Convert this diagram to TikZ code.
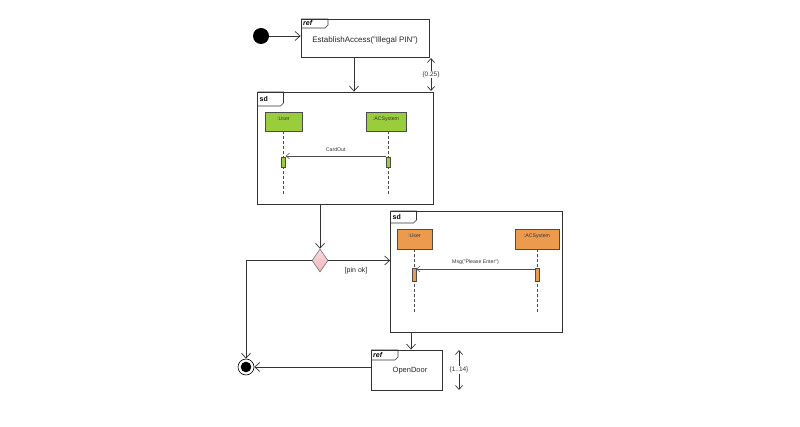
\documentclass[tikz,border=0pt]{standalone}
\usepackage{fontspec}
\setmainfont{Liberation Sans}
\usetikzlibrary{arrows.meta,shapes.geometric,calc}
\definecolor{lgreen}{HTML}{9ACD3C}
\definecolor{lorange}{HTML}{EC9A4E}
\definecolor{dpink}{HTML}{F2BFC6}
\tikzset{
  frame/.style={draw=black!80, line width=0.8pt, rectangle, inner sep=0pt},
  arr/.style={draw=black!80, line width=0.7pt, -{Straight Barb[length=5pt,width=9pt]}},
  dur/.style={draw=black!80, line width=0.7pt, {Straight Barb[length=4pt,width=7pt]}-{Straight Barb[length=4pt,width=7pt]}},
  msg/.style={draw=black!70, line width=0.5pt, -{Straight Barb[length=3.5pt,width=6pt]}},
  life/.style={draw=black!70, line width=0.5pt, dash pattern=on 3pt off 2pt},
  headg/.style={draw=black!70, fill=lgreen, line width=0.5pt, minimum width=37pt, minimum height=19pt, inner sep=0pt},
  heado/.style={draw=black!70, fill=lorange, line width=0.5pt, minimum width=37pt, minimum height=20pt, inner sep=0pt},
  actg/.style={draw=black!70, fill=lgreen, line width=0.5pt, minimum width=4pt, minimum height=10pt, inner sep=0pt},
  acto/.style={draw=black!70, fill=lorange, line width=0.5pt, minimum width=4pt, minimum height=13pt, inner sep=0pt},
  tiny/.style={font=\fontsize{5.2}{6}\selectfont, text=black!80},
}
\newcommand{\tabframe}[5]{% x y w h label
  \draw[draw=black!80, line width=0.6pt] (#1,#2) -- (#1+#3,#2) -- (#1+#3,#2+#4-3) -- (#1+#3-3,#2+#4) -- (#1,#2+#4);
  \node[anchor=west, inner sep=1pt, font=\fontsize{7}{8}\selectfont\bfseries] at (#1+1,#2+#4/2) {#5};
}
\begin{document}
\begin{tikzpicture}[x=1pt,y=-1pt]
\useasboundingbox[fill=white] (0,0) rectangle (800,427);
% initial
\node[circle, fill=black, minimum size=16pt, inner sep=0pt] (init) at (261,36) {};
% ref 1
\node[frame, minimum width=128pt, minimum height=38pt] (ref1) at (365,38) {};
\tabframe{301}{19}{27}{9}{\itshape ref}
\node[font=\fontsize{8}{9}\selectfont, text=black!85] (ref1t) at (365,40) {EstablishAccess("Illegal PIN")};
% sd 1
\node[frame, minimum width=176pt, minimum height=112pt] (sd1) at (345.5,148) {};
\tabframe{257.5}{92}{26}{14}{sd}
\node[headg] (u1) at (283.5,121.5) {};
\node[tiny, anchor=north] (u1t) at (283.5,113) {:User};
\node[headg, minimum width=40pt] (a1) at (386,121.5) {};
\node[tiny, anchor=north] (a1t) at (386,113) {:ACSystem};
\coordinate (u1e) at (283.5,195);
\coordinate (a1e) at (388,195);
\draw[life] (u1.south) -- (u1e);
\draw[life] (a1.south -| a1e) -- (a1e);
\node[actg] (u1act) at (283.5,162) {};
\node[actg] (a1act) at (388,162) {};
\draw[msg] (a1act.west |- 0,156) -- (u1act.east |- 0,156) node[midway, above=1pt, tiny] {CardOut};
% duration 0.25
\coordinate (d1a) at (431,58);
\coordinate (d1b) at (431,91);
\draw[dur] (d1a) -- (d1b) node[midway, fill=white, inner sep=0.5pt, font=\fontsize{6.5}{7}\selectfont, text=black!80] {\{0.25\}};
% decision
\node[diamond, draw=black!60, line width=0.5pt, top color=dpink!60, bottom color=dpink!95!red, minimum width=16pt, minimum height=23pt, inner sep=0pt, aspect=0.7] (dia) at (320,260.5) {};
% sd 2
\node[frame, minimum width=172pt, minimum height=121pt] (sd2) at (476.5,271.5) {};
\tabframe{390.5}{211}{26}{12}{sd}
\node[heado, minimum width=35pt] (u2) at (414.5,239) {};
\node[tiny, anchor=north] (u2t) at (414.5,230.5) {:User};
\node[heado, minimum width=44pt] (a2) at (537,239) {};
\node[tiny, anchor=north] (a2t) at (537,230.5) {:ACSystem};
\coordinate (u2e) at (414,314);
\coordinate (a2e) at (537,314);
\draw[life] (u2.south -| u2e) -- (u2e);
\draw[life] (a2.south) -- (a2e);
\node[acto] (u2act) at (414,274.5) {};
\node[acto] (a2act) at (537,274.5) {};
\draw[msg] (a2act.west |- 0,269) -- (u2act.east |- 0,269) node[midway, above=1pt, tiny] {Msg("Please Enter")};
% ref 2
\node[frame, minimum width=71pt, minimum height=40pt] (ref2) at (406.5,370) {};
\tabframe{371}{350}{27}{10}{\itshape ref}
\node[font=\fontsize{7.5}{8}\selectfont, text=black!85] (ref2t) at (410,371) {OpenDoor};
% duration 1..14
\coordinate (d2a) at (459,350);
\coordinate (d2b) at (459,390);
\draw[dur] (d2a) -- (d2b) node[midway, fill=white, inner sep=0.5pt, font=\fontsize{6.5}{7}\selectfont, text=black!80] {\{1..14\}};
% final
\node[circle, draw=black, line width=0.6pt, minimum size=16pt, inner sep=0pt] (final) at (246,367) {};
\fill[black] (final.center) circle (5.3pt);
% connectors
\draw[arr] (init) -- (ref1.west |- init);
\draw[arr] (ref1.south -| 354,0) -- (sd1.north -| 354,0);
\draw[arr] (sd1.south -| dia.north) -- (dia.north);
\draw[arr] (dia.east) -- (dia.east -| sd2.west) node[pos=0.45, below=3pt, font=\fontsize{7}{8}\selectfont, text=black!85] {[pin ok]};
\draw[arr] (dia.west) -| (final.north);
\draw[arr] (sd2.south -| 411,0) -- (ref2.north -| 411,0);
\draw[arr] (ref2.west |- final) -- (final.east);
\end{tikzpicture}
\end{document}
